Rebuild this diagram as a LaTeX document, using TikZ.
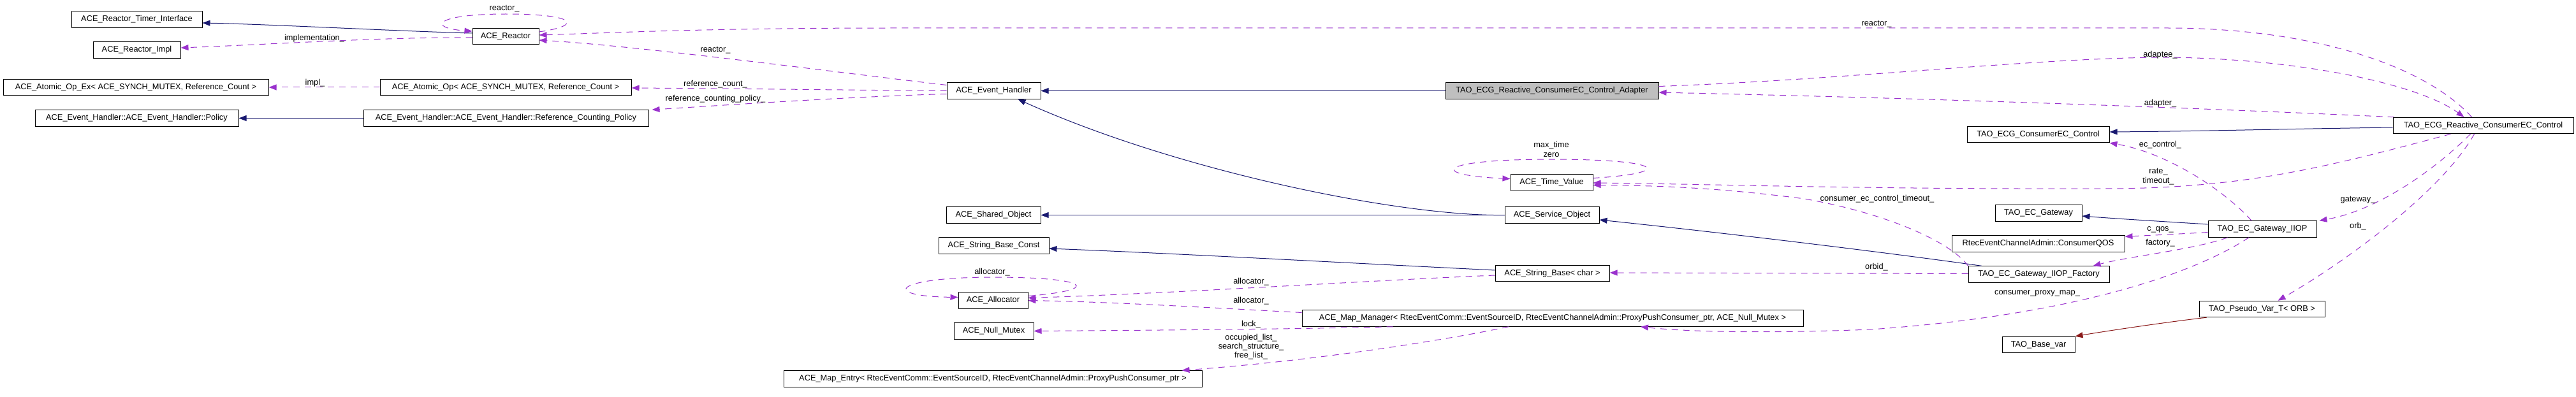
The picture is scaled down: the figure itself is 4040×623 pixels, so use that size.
\documentclass[tikz,border=0pt]{standalone}
\usepackage{fontspec}
\setmainfont{Liberation Sans}
\usetikzlibrary{arrows.meta,calc}
\definecolor{inhblue}{HTML}{191970}
\definecolor{usepurple}{HTML}{9A32CD}
\definecolor{tplred}{HTML}{8B1A1A}
\definecolor{focusgray}{HTML}{BFBFBF}
\tikzset{
  cls/.style={draw=black, line width=1pt, minimum height=25.5pt, inner sep=0pt, font=\fontsize{12.8}{15}\selectfont, fill=white},
  focus/.style={cls, fill=focusgray},
  inh/.style={draw=inhblue, line width=1pt, -{Triangle[length=12pt,width=9pt,fill=inhblue]}},
  usage/.style={draw=usepurple, line width=1pt, dash pattern=on 10pt off 8pt, -{Triangle[length=12pt,width=9pt,fill=usepurple]}},
  tpl/.style={draw=tplred, line width=1pt, -{Triangle[length=12pt,width=9pt,fill=tplred]}},
  lbl/.style={inner sep=0pt, font=\fontsize{12.8}{15}\selectfont},
}
\begin{document}
\begin{tikzpicture}[x=1pt,y=-1pt]
\useasboundingbox (0,0) rectangle (4040,623);
% nodes
\node[cls, minimum width=205pt] (timer) at (214.5,30.5) {ACE\_Reactor\_Timer\_Interface};
\node[cls, minimum width=137pt] (impl) at (214.5,78.5) {ACE\_Reactor\_Impl};
\node[cls, minimum width=416pt] (opex) at (213,137) {ACE\_Atomic\_Op\_Ex< ACE\_SYNCH\_MUTEX, Reference\_Count >};
\node[cls, minimum width=319pt] (policy) at (214.5,185.5) {ACE\_Event\_Handler::ACE\_Event\_Handler::Policy};
\node[cls, minimum width=104pt] (reactor) at (793,57) {ACE\_Reactor};
\node[cls, minimum width=394pt] (atomic) at (793,137) {ACE\_Atomic\_Op< ACE\_SYNCH\_MUTEX, Reference\_Count >};
\node[cls, minimum width=447pt] (rcp) at (793.5,185.5) {ACE\_Event\_Handler::ACE\_Event\_Handler::Reference\_Counting\_Policy};
\node[cls, minimum width=147pt] (eh) at (1558.5,142.5) {ACE\_Event\_Handler};
\node[cls, minimum width=148pt] (shared) at (1558,337.5) {ACE\_Shared\_Object};
\node[cls, minimum width=173pt] (sbc) at (1558.5,385.5) {ACE\_String\_Base\_Const};
\node[cls, minimum width=109pt] (alloc) at (1557.5,471.5) {ACE\_Allocator};
\node[cls, minimum width=125pt] (nullmutex) at (1558.5,519.5) {ACE\_Null\_Mutex};
\node[cls, minimum width=656pt] (mapentry) at (1557,594.5) {ACE\_Map\_Entry< RtecEventComm::EventSourceID, RtecEventChannelAdmin::ProxyPushConsumer\_ptr >};
\node[focus, minimum width=334pt] (adapter) at (2434,142.5) {TAO\_ECG\_Reactive\_ConsumerEC\_Control\_Adapter};
\node[cls, minimum width=129pt] (timevalue) at (2433.5,286.5) {ACE\_Time\_Value};
\node[cls, minimum width=148pt] (service) at (2434,337.5) {ACE\_Service\_Object};
\node[cls, minimum width=179pt] (sbchar) at (2434.5,429) {ACE\_String\_Base< char >};
\node[cls, minimum width=786pt] (mapmgr) at (2435,499.5) {ACE\_Map\_Manager< RtecEventComm::EventSourceID, RtecEventChannelAdmin::ProxyPushConsumer\_ptr, ACE\_Null\_Mutex >};
\node[cls, minimum width=223pt] (ecctrl) at (3196.5,211) {TAO\_ECG\_ConsumerEC\_Control};
\node[cls, minimum width=136pt] (gateway) at (3197,334.5) {TAO\_EC\_Gateway};
\node[cls, minimum width=271pt] (qos) at (3196.5,382.5) {RtecEventChannelAdmin::ConsumerQOS};
\node[cls, minimum width=221pt] (factory) at (3197.5,430.5) {TAO\_EC\_Gateway\_IIOP\_Factory};
\node[cls, minimum width=114pt] (basevar) at (3197,541) {TAO\_Base\_var};
\node[cls, minimum width=283pt] (rcc) at (3894.5,197) {TAO\_ECG\_Reactive\_ConsumerEC\_Control};
\node[cls, minimum width=170pt] (iiop) at (3548,359.5) {TAO\_EC\_Gateway\_IIOP};
\node[cls, minimum width=197pt] (pseudo) at (3547.5,485) {TAO\_Pseudo\_Var\_T< ORB >};
% inheritance edges
\draw[inh] ($(reactor.west)+(0,-5)$) .. controls (650,50) and (420,38) .. ($(timer.east)+(0,5.5)$);
\draw[inh] (rcp.west) -- (policy.east);
\draw[inh] (adapter.west) -- (eh.east);
\draw[inh] (service.west) .. controls (2200,340) and (1850,270) .. ($(eh.south)+(38,0)$);
\draw[inh] (service.west) -- (shared.east);
\draw[inh] ($(factory.north west)+(21,0)$) .. controls (2950,395) and (2700,365) .. ($(service.east)+(0,7.5)$);
\draw[inh] ($(sbchar.west)+(0,-5)$) .. controls (2100,412) and (1850,398) .. ($(sbc.east)+(0,4.5)$);
\draw[inh] ($(rcc.west)+(0,3)$) .. controls (3600,202) and (3450,206) .. ($(ecctrl.east)+(0,-4)$);
\draw[inh] ($(iiop.west)+(0,-7.5)$) .. controls (3400,348) and (3330,344) .. ($(gateway.east)+(0,4.5)$);
\draw[tpl] ($(pseudo.south west)+(12,0)$) .. controls (3400,505) and (3300,520) .. (basevar.north east);
% usage edges
\draw[usage] ($(reactor.west)+(0,2)$) .. controls (600,58) and (420,70) .. ($(impl.east)+(0,-3.5)$);
\draw[usage] ($(reactor.east)+(0,-7)$) .. controls (915,40) and (905,22) .. (793,22) .. controls (680,22) and (670,44) .. ($(reactor.west)+(0,-8)$);
\draw[usage] ($(eh.west)+(0,-9)$) .. controls (1300,112) and (1000,72) .. ($(reactor.east)+(0,6)$);
\draw[usage] (eh.west) .. controls (1300,141) and (1150,139) .. ($(atomic.east)+(0,1)$);
\draw[usage] ($(eh.west)+(0,5)$) .. controls (1350,151) and (1150,164) .. ($(rcp.north east)+(5,0)$);
\draw[usage] (atomic.west) -- (opex.east);
\draw[usage] ($(rcc.north)+(-18,0)$) .. controls (3800,100) and (3620,44) .. (3400,44) -- (1400,44) .. controls (1100,44) and (950,52) .. ($(reactor.east)+(0,-2)$);
\draw[usage] ($(adapter.east)+(0,-7)$) .. controls (2900,125) and (3200,90) .. (3400,90) .. controls (3600,92) and (3790,130) .. ($(rcc.north)+(-30,0)$);
\draw[usage] ($(rcc.north west)+(2,0)$) .. controls (3500,172) and (3100,156) .. ($(adapter.east)+(0,2.5)$);
\draw[usage] ($(iiop.north)+(-17,0)$) .. controls (3490,300) and (3400,240) .. (ecctrl.south east);
\draw[usage] ($(rcc.south)+(-51,0)$) .. controls (3650,262) and (3520,296) .. (3300,296) .. controls (2900,297) and (2700,289) .. ($(timevalue.east)+(0,0.5)$);
\draw[usage] (factory.north west) .. controls (3060,380) and (2960,335) .. (2830,312) .. controls (2700,295) and (2600,291) .. ($(timevalue.east)+(0,4)$);
\draw[usage] ($(rcc.south)+(-20,0)$) .. controls (3820,265) and (3730,330) .. ($(iiop.north east)+(4,0)$);
\draw[usage] ($(rcc.south)+(-14,0)$) .. controls (3830,300) and (3680,410) .. ($(pseudo.north)+(25,0)$);
\draw[usage] ($(iiop.west)+(0,5)$) .. controls (3420,367) and (3380,369) .. ($(qos.north east)+(0,2)$);
\draw[usage] ($(iiop.south west)+(31,0)$) .. controls (3440,392) and (3340,402) .. ($(factory.north east)+(-26,0)$);
\draw[usage] ($(iiop.south)+(-21,0)$) .. controls (3440,430) and (3250,495) .. (2934,517) .. controls (2750,524) and (2640,520) .. ($(mapmgr.south)+(138,0)$);
\draw[usage] ($(factory.west)+(0,-1)$) -- ($(sbchar.east)+(0,-1)$);
\draw[usage] ($(sbchar.west)+(0,3)$) .. controls (2150,440) and (1850,460) .. ($(alloc.east)+(0,-4)$);
\draw[usage] ($(mapmgr.west)+(0,-9)$) .. controls (1900,483) and (1750,474) .. (alloc.east);
\draw[usage] ($(mapmgr.south west)+(143,0)$) .. controls (2050,516) and (1850,518) .. (nullmutex.east);
\draw[usage] ($(mapmgr.south)+(-69,0)$) .. controls (2250,537) and (2050,567) .. ($(mapentry.north east)+(-32,0)$);
\draw[usage] ($(alloc.east)+(0,-7)$) .. controls (1730,455) and (1710,435) .. (1557,435) .. controls (1400,435) and (1380,465) .. ($(alloc.west)+(0,-5)$);
\draw[usage] ($(timevalue.east)+(0,-7)$) .. controls (2625,272) and (2615,250) .. (2433,250) .. controls (2250,250) and (2240,275) .. ($(timevalue.west)+(0,-6)$);
% labels
\node[lbl] (limpl) at (493,60) {implementation\_};
\node[lbl] (lrloop) at (791,14) {reactor\_};
\node[lbl] (lehr) at (1122,79) {reactor\_};
\node[lbl] (lrc) at (1122,132) {reference\_count\_};
\node[lbl] (lrcp) at (1122,155) {reference\_counting\_policy\_};
\node[lbl] (limpl2) at (494,130) {impl\_};
\node[lbl] (lrr) at (2943,38) {reactor\_};
\node[lbl] (ladaptee) at (3388,86) {adaptee\_};
\node[lbl] (ladapter) at (3388,162) {adapter\_};
\node[lbl] (lec) at (3388,227) {ec\_control\_};
\node[lbl] (lrate) at (3385,270) {rate\_};
\node[lbl] (ltimeout) at (3385,284) {timeout\_};
\node[lbl] (lcect) at (2944,312) {consumer\_ec\_control\_timeout\_};
\node[lbl] (lgw) at (3698,314) {gateway\_};
\node[lbl] (lorb) at (3698,355) {orb\_};
\node[lbl] (lqos) at (3388,360) {c\_qos\_};
\node[lbl] (lfac) at (3388,381) {factory\_};
\node[lbl] (lorbid) at (2943,419) {orbid\_};
\node[lbl] (lcpm) at (3195,460) {consumer\_proxy\_map\_};
\node[lbl] (lal1) at (1556,427) {allocator\_};
\node[lbl] (lal2) at (1962,442) {allocator\_};
\node[lbl] (lal3) at (1962,472) {allocator\_};
\node[lbl] (llock) at (1962,509) {lock\_};
\node[lbl] (locc) at (1962,530) {occupied\_list\_};
\node[lbl] (lss) at (1962,544) {search\_structure\_};
\node[lbl] (lfree) at (1962,558) {free\_list\_};
\node[lbl] (lmax) at (2433,228) {max\_time};
\node[lbl] (lzero) at (2433,243) {zero};
\end{tikzpicture}
\end{document}
